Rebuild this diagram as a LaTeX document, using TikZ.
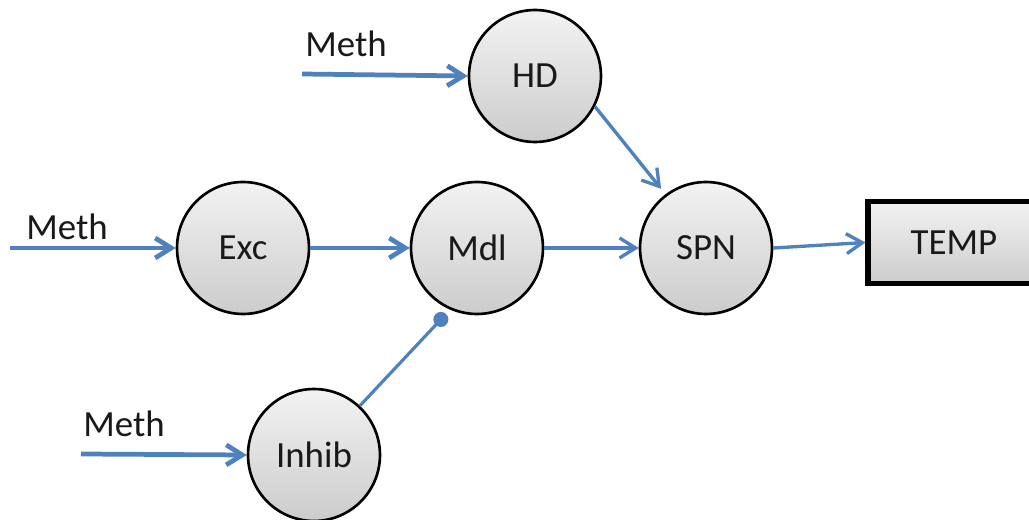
\documentclass[tikz,border=0pt]{standalone}
\usepackage{fontspec}
\setmainfont{Carlito}
\usetikzlibrary{arrows.meta}
\definecolor{linkblue}{RGB}{79,129,189}
\begin{document}
\begin{tikzpicture}[x=0.02cm,y=-0.02cm,
  txt/.style={font=\fontsize{21}{25}\selectfont, text=black!90},
  state/.style={txt, circle, draw=black, line width=1.5pt, minimum size=2.64cm,
    inner sep=0pt, top color=gray!10, bottom color=gray!40},
  outbox/.style={txt, rectangle, draw=black, line width=2.9pt, minimum width=3.44cm,
    minimum height=1.64cm, inner sep=0pt, top color=gray!10, bottom color=gray!40},
  tip/.style={-{Straight Barb[length=0.32cm, width=0.4cm]}},
  feed/.style={tip, draw=linkblue, line width=2.7pt},
  link/.style={tip, draw=linkblue, line width=1.9pt},
  inhibit/.style={-{Circle[length=0.3cm]}, draw=linkblue, fill=linkblue, line width=1.8pt},
  label/.style={txt, inner sep=0pt}
]
\clip (0,0) rectangle (1029,520);
\fill[white] (0,0) rectangle (1029,520);

% neuron populations
\node[state] (hd)    at (535,76)    {HD};
\node[state] (exc)   at (243,248)   {Exc};
\node[state] (mdl)   at (477,248)   {Mdl};
\node[state] (spn)   at (706,248)   {SPN};
\node[state] (inhib) at (314,455)   {Inhib};
\node[outbox] (temp) at (954,242.5) {TEMP};

% methamphetamine inputs
\coordinate (mhd)  at (302,74);
\coordinate (mexc) at (10,248);
\coordinate (minh) at (81,454);
\node[label] (lhd)  at (346,44)  {Meth};
\node[label] (lexc) at (67,227)  {Meth};
\node[label] (linh) at (124,424) {Meth};
\draw[feed] (mhd)  -- (hd.west);
\draw[feed] (mexc) -- (exc.west);
\draw[feed] (minh) -- (inhib.west);

% excitatory pathway
\draw[feed] (exc) -- (mdl);
\draw[link] (mdl.east) -- (spn.west);
\draw[link, shorten >=0.14cm] (hd.-27) -- (spn.127);
\draw[link] (spn.east) -- (temp.west);

% inhibitory input onto Mdl
\coordinate (mdlin) at (446,314);
\draw[inhibit] (inhib.47) -- (mdlin);
\end{tikzpicture}
\end{document}
